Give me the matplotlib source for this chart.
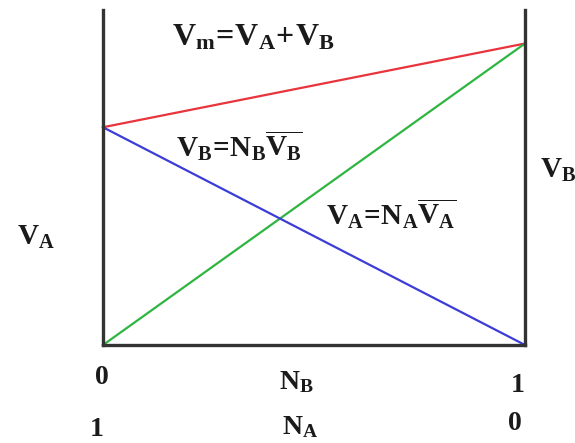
import matplotlib
matplotlib.use("Agg")
from matplotlib import pyplot as plt

# mole fraction of B along the bottom axis
nb = [0.0, 1.0]
# partial volumes (axis runs 0..1)
va_line = [0.65, 0.0]   # V_A = N_A * VA-bar
vb_line = [0.0, 0.90]   # V_B = N_B * VB-bar
vm_line = [0.65, 0.90]  # V_m = V_A + V_B

W, H = 575, 443

plt.rcParams['mathtext.fontset'] = 'custom'
plt.rcParams['mathtext.rm'] = 'Liberation Serif:bold'
plt.rcParams['mathtext.bf'] = 'Liberation Serif:bold'
plt.rcParams['mathtext.it'] = 'Liberation Serif:bold'

fig = plt.figure(figsize=(W / 100, H / 100), dpi=100)
ax = fig.add_axes([103 / W, 1 - 345 / H, (525 - 103) / W, (345 - 10) / H])

ax.plot(nb, vm_line, color='#e8343c', lw=1.6, clip_on=False)
ax.plot(nb, vb_line, color='#2fb540', lw=1.6, clip_on=False)
ax.plot(nb, va_line, color='#3c3cd8', lw=1.6, clip_on=False)

ax.set_xlim(0, 1)
ax.set_ylim(0, 1)
ax.set_xticks([])
ax.set_yticks([])
ax.spines['top'].set_visible(False)
for s in ['left', 'right', 'bottom']:
    ax.spines[s].set_color('#333333')
    ax.spines[s].set_linewidth(2.4)


def label(x, y, s, size=20, ha='left'):
    fig.text(x / W, 1 - y / H, s, fontsize=size, ha=ha, va='center',
             family='Liberation Serif', weight='bold', color='#1a1a1a')


label(172, 38, r'$\mathrm{V_m\!=\!V_A\!+\!V_B}$', size=23)
label(176, 146, r'$\mathrm{V_B\!=\!N_B\overline{V_B}}$', size=21)
label(326, 214, r'$\mathrm{V_A\!=\!N_A\overline{V_A}}$', size=21)
label(17, 237, r'$\mathrm{V_A}$', size=21)
label(540, 170, r'$\mathrm{V_B}$', size=21)

label(102, 378, '0', ha='center')
label(296, 382, r'$\mathrm{N_B}$', ha='center')
label(518, 385, '1', ha='center')
label(97, 429, '1', ha='center')
label(300, 427, r'$\mathrm{N_A}$', ha='center')
label(515, 423, '0', ha='center')

fig.savefig('out.png', dpi=100)
